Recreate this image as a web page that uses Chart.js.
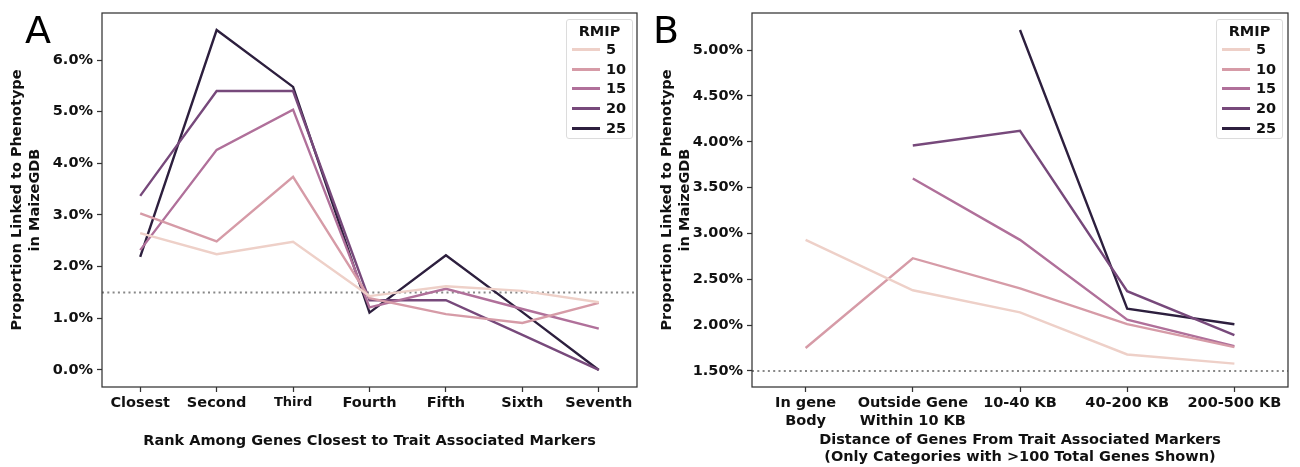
<!DOCTYPE html>
<html>
<head>
<meta charset="utf-8">
<script src="https://cdn.jsdelivr.net/npm/chart.js@4/dist/chart.umd.min.js"></script>
<style>
   html, body { margin: 0; padding: 0; background: #fff; }
   #wrap { position: relative; width: 1300px; height: 467px; font-family: "DejaVu Sans", sans-serif; }
   .panel { position: absolute; top: 0; width: 650px; height: 467px; }
   .tag { position: absolute; font-size: 38px; line-height: 38px; color: #000; }
   .legend { position: absolute; width: 65px; height: 118px; border: 1px solid #dcdcdc; border-radius: 3px;
             background: rgba(255,255,255,.8); font-weight: bold; font-size: 14.5px; color: #111; }
   .legend .ttl { position: absolute; top: 3px; left: 0; width: 100%; text-align: center; }
   .legend .row { position: absolute; left: 5px; height: 20px; line-height: 20px; }
   .legend .smp { position: absolute; left: 0; top: 9px; width: 28px; height: 3px; }
   .legend .lbl { position: absolute; left: 34px; top: 0; }
</style>
</head>
<body>
<div id="wrap">
   <div class="panel" style="left:0"><canvas id="rankChart" width="650" height="467"></canvas></div>
   <div class="panel" style="left:650px"><canvas id="distChart" width="650" height="467"></canvas></div>
   <div class="tag" style="left:25px; top:11px">A</div>
   <div class="tag" style="left:653px; top:11px">B</div>
   <div class="legend" id="legA" style="left:566px; top:19px"></div>
   <div class="legend" id="legB" style="left:1216px; top:19px"></div>
</div>
<script>
// Data
// ----------------------------------------------
const rmipLevels = [5, 10, 15, 20, 25];
const rmipColors = ['#eed0c8', '#d69ba7', '#b0709a', '#77497b', '#2d1f3e'];
const refLevel = 1.5;

const rankLabels = ['Closest', 'Second', 'Third', 'Fourth', 'Fifth', 'Sixth', 'Seventh'];
const rank5  = [2.65, 2.24, 2.48, 1.43, 1.62, 1.53, 1.31];
const rank10 = [3.03, 2.49, 3.74, 1.39, 1.08, 0.91, 1.30];
const rank15 = [2.32, 4.26, 5.04, 1.21, 1.57, 1.18, 0.80];
const rank20 = [3.37, 5.40, 5.40, 1.35, 1.35, 0.68, 0.00];
const rank25 = [2.19, 6.58, 5.48, 1.11, 2.22, 1.12, 0.00];

const distLabels = [['In gene', 'Body'], ['Outside Gene', 'Within 10 KB'], '10-40 KB', '40-200 KB', '200-500 KB'];
const dist5  = [2.93, 2.38, 2.14, 1.68, 1.58];
const dist10 = [1.75, 2.73, 2.40, 2.01, 1.76];
const dist15 = [null, 3.60, 2.93, 2.06, 1.77];
const dist20 = [null, 3.96, 4.12, 2.37, 1.89];
const dist25 = [null, null, 5.22, 2.18, 2.01];

const rankTicks = [0, 1, 2, 3, 4, 5, 6];
const distTicks = [1.5, 2.0, 2.5, 3.0, 3.5, 4.0, 4.5, 5.0];

const FONT = 'DejaVu Sans';
const FS = 14.5;
const frameColor = '#333';

// Frame round the plot + dotted reference line
// ----------------------------------------------
const framePlugin = {
   id: 'frame',
   beforeDatasetsDraw(chart) {
      const {ctx, chartArea: a, scales: {y}} = chart;
      const py = y.getPixelForValue(refLevel);
      ctx.save();
      ctx.strokeStyle = '#888';
      ctx.lineWidth = 2;
      ctx.setLineDash([2, 3.3]);
      ctx.beginPath();
      ctx.moveTo(a.left, py);
      ctx.lineTo(a.right, py);
      ctx.stroke();
      ctx.restore();
   },
   afterDatasetsDraw(chart) {
      const {ctx, chartArea: a} = chart;
      ctx.save();
      ctx.strokeStyle = frameColor;
      ctx.lineWidth = 1.25;
      ctx.strokeRect(a.left, a.top, a.right - a.left, a.bottom - a.top);
      ctx.restore();
   }
};

const makeDatasets = (series) => series.map((vals, i) => ({
   label: String(rmipLevels[i]),
   data: vals,
   borderColor: rmipColors[i],
   backgroundColor: rmipColors[i],
   borderWidth: 2.4,
   pointRadius: 0,
   tension: 0,
   spanGaps: false
}));

const makeOptions = (cfg) => ({
   responsive: false,
   animation: false,
   layout: { padding: { top: 13, right: cfg.padRight, left: 0, bottom: 0 } },
   plugins: { legend: { display: false }, tooltip: { enabled: false } },
   scales: {
      x: {
         offset: true,
         afterFit: (s) => { s.height = 80; },
         border: { display: false },
         grid: { drawOnChartArea: false, drawTicks: true, tickLength: 5, tickColor: frameColor, tickWidth: 1.25, offset: false },
         ticks: {
            color: '#111', padding: 3, maxRotation: 0, autoSkip: false,
            font: cfg.xTickFont
         },
         title: {
            display: true, text: cfg.xTitle, color: '#111',
            font: { family: FONT, size: FS, weight: 'bold' },
            padding: { top: 0, bottom: cfg.xTitlePad }
         }
      },
      y: {
         min: cfg.yMin, max: cfg.yMax,
         afterFit: (s) => { s.width = 102; },
         afterBuildTicks: (s) => { s.ticks = cfg.yTicks.map(v => ({ value: v })); },
         border: { display: false },
         grid: { drawOnChartArea: false, drawTicks: true, tickLength: 5, tickColor: frameColor, tickWidth: 1.25 },
         ticks: {
            color: '#111', padding: 4,
            font: { family: FONT, size: FS, weight: 'bold' },
            callback: (v) => v.toFixed(cfg.yDigits) + '%'
         },
         title: {
            display: true, text: ['Proportion Linked to Phenotype', 'in MaizeGDB'], color: '#111',
            font: { family: FONT, size: FS, weight: 'bold' },
            padding: { top: 9, bottom: 0 }
         }
      }
   }
});

// Rank chart (A)
// ----------------------------------------------
new Chart(document.getElementById('rankChart'), {
   type: 'line',
   data: { labels: rankLabels, datasets: makeDatasets([rank5, rank10, rank15, rank20, rank25]) },
   options: makeOptions({
      padRight: 13, yMin: -0.33, yMax: 6.91, yTicks: rankTicks, yDigits: 1,
      xTitle: 'Rank Among Genes Closest to Trait Associated Markers', xTitlePad: 17,
      xTickFont: (c) => ({ family: FONT, size: c.index === 2 ? 13 : FS, weight: 'bold' })
   }),
   plugins: [framePlugin]
});

// Distance chart (B)
// ----------------------------------------------
new Chart(document.getElementById('distChart'), {
   type: 'line',
   data: { labels: distLabels, datasets: makeDatasets([dist5, dist10, dist15, dist20, dist25]) },
   options: makeOptions({
      padRight: 12, yMin: 1.325, yMax: 5.405, yTicks: distTicks, yDigits: 2,
      xTitle: ['Distance of Genes From Trait Associated Markers', '(Only Categories with >100 Total Genes Shown)'], xTitlePad: 1,
      xTickFont: { family: FONT, size: FS, weight: 'bold' }
   }),
   plugins: [framePlugin]
});

// Legends
// ----------------------------------------------
['legA', 'legB'].forEach(id => {
   const box = document.getElementById(id);
   let html = '<div class="ttl">RMIP</div>';
   rmipLevels.forEach((lv, i) => {
      html += `<div class="row" style="top:${Math.round(19 + i * 19.7)}px"><div class="smp" style="background:${rmipColors[i]}"></div><div class="lbl">${lv}</div></div>`;
   });
   box.innerHTML = html;
});
</script>
</body>
</html>
